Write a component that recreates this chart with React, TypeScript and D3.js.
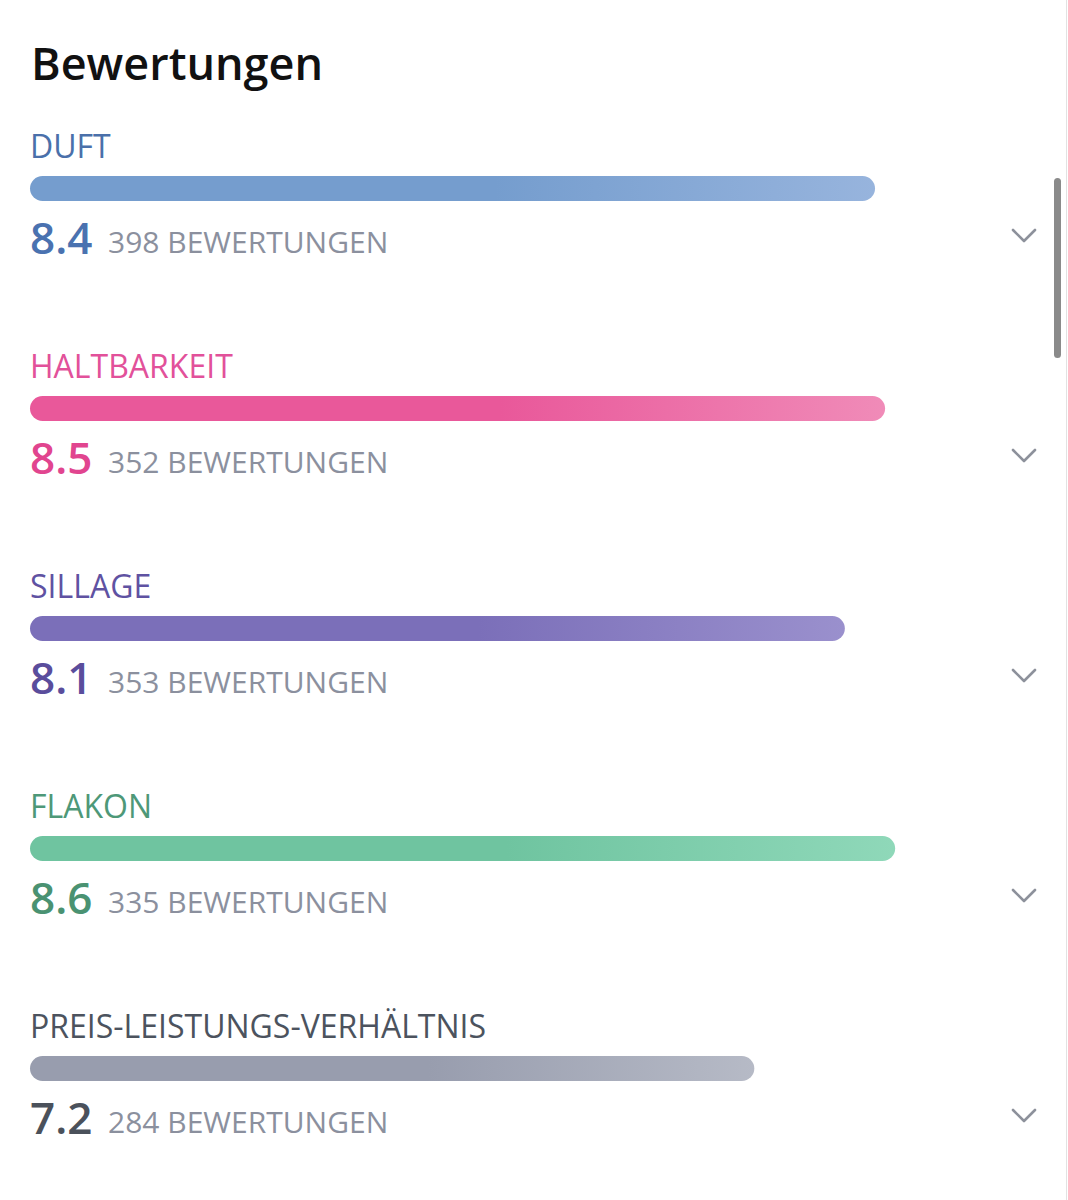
import { scaleLinear } from "d3";

// ratings
const categories = ["DUFT", "HALTBARKEIT", "SILLAGE", "FLAKON", "PREIS-LEISTUNGS-VERHÄLTNIS"];
const scores = [8.4, 8.5, 8.1, 8.6, 7.2];
const voteCounts = [398, 352, 353, 335, 284];

// label / value colour, bar start, bar end
const textColors = ["#4a70aa", "#e2519a", "#5f52a2", "#4e9878", "#4c535e"];
const valueColors = ["#4a72b0", "#e1458f", "#5a4d9c", "#4a9272", "#4b515b"];
const barFrom = ["#759dce", "#e9589a", "#7b6fb9", "#6fc4a0", "#989dae"];
const barTo = ["#97b4dd", "#f08bb8", "#9a90cd", "#8fd8b9", "#b6bac6"];

const W = 1068;
const H = 1200;
const FONT = "'Open Sans', 'Noto Sans', sans-serif";

export default function App() {
  const x = scaleLinear().domain([0, 10]).range([30, 1036]);
  const rowTop = (i: number) => 147 + i * 220;
  const barH = 25;

  return (
    <div style={{ position: "absolute", left: 0, top: 0, width: W, height: H, background: "#fff" }}>
      <svg width={W} height={H} style={{ display: "block", fontFamily: FONT }}>
        <defs>
          {categories.map((c, i) => (
            <linearGradient key={c} id={`bar-grad-${i}`} x1="0" y1="0" x2="1" y2="0">
              <stop offset="0" stopColor={barFrom[i]} />
              <stop offset="0.55" stopColor={barFrom[i]} />
              <stop offset="1" stopColor={barTo[i]} />
            </linearGradient>
          ))}
        </defs>

        <text x={31} y={80} fontSize={45} fontWeight={600} fill="#111">
          Bewertungen
        </text>

        {categories.map((c, i) => {
          const top = rowTop(i);
          return (
            <g key={c}>
              {/* category label */}
              <text x={30} y={top + 11} fontSize={32} fill={textColors[i]}>
                {c}
              </text>
              {/* bar */}
              <rect
                x={x(0)}
                y={top + 29}
                width={x(scores[i]) - x(0)}
                height={barH}
                rx={barH / 2}
                fill={`url(#bar-grad-${i})`}
              />
              {/* score + count */}
              <text x={30} y={top + 107} fontSize={44} fontWeight={600} fill={valueColors[i]}>
                {scores[i].toFixed(1)}
              </text>
              <text x={108} y={top + 106} fontSize={30} fill="#8b909e">
                {voteCounts[i]} BEWERTUNGEN
              </text>
              {/* chevron */}
              <polyline
                points={`1013,${top + 83} 1024,${top + 94} 1035,${top + 83}`}
                fill="none"
                stroke="#8d919b"
                strokeWidth={2.6}
                strokeLinecap="round"
                strokeLinejoin="round"
              />
            </g>
          );
        })}

        {/* scrollbar + edge */}
        <rect x={1054} y={178} width={7} height={180} rx={3.5} fill="#8a8a8a" />
        <line x1={1066.5} y1={0} x2={1066.5} y2={H} stroke="#e2e2e2" strokeWidth={1} />
      </svg>
    </div>
  );
}
